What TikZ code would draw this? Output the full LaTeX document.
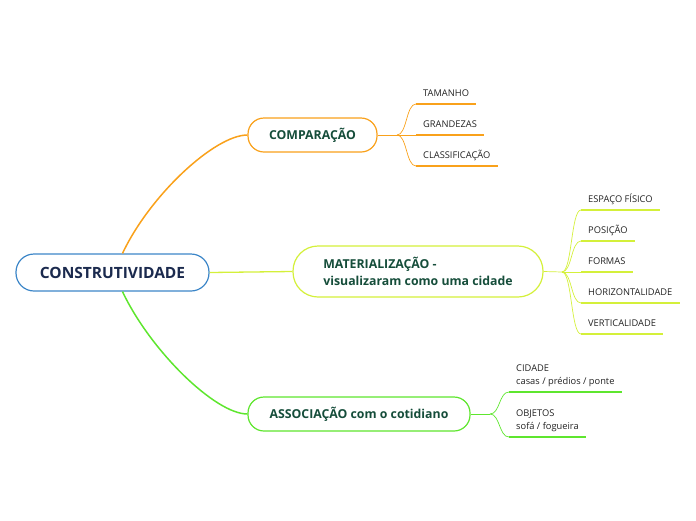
\documentclass[tikz,border=0pt]{standalone}
\usepackage{fontspec}
\setmainfont{Open Sans}
\definecolor{cOrange}{HTML}{F9A11B}
\definecolor{cLime}{HTML}{D4F03A}
\definecolor{cGreen}{HTML}{5EE62E}
\definecolor{cBlue}{HTML}{3C86C8}
\definecolor{cRootText}{HTML}{1B2A4E}
\definecolor{cTopicText}{HTML}{154D3A}
\definecolor{cSubText}{HTML}{222222}
\begin{document}
\begin{tikzpicture}[x=1pt,y=-1pt,
  rootbox/.style={draw=cBlue, line width=1.2pt, fill=white, rounded corners=18pt,
    minimum width=193pt, minimum height=37pt, text=cRootText,
    font=\bfseries\fontsize{15.5}{18}\selectfont},
  topicbox/.style={draw=#1, line width=1.2pt, fill=white, rounded corners=16pt,
    minimum height=34pt, text=cTopicText, align=left,
    font=\bfseries\fontsize{12.3}{17}\selectfont},
  subbox/.style={anchor=south west, inner xsep=7pt, inner ysep=4.5pt, align=left,
    text depth=2.6pt, text=cSubText, font=\fontsize{9.3}{13}\selectfont},
  mainline/.style={draw=#1, line width=1.5pt},
  subline/.style={draw=#1, line width=0.7pt},
  uline/.style={draw=#1, line width=2.2pt}
]
\useasboundingbox (0,0) rectangle (696,520);

% main nodes
\node[rootbox] (root) at (112.5,272.5) {CONSTRUTIVIDADE};
\node[topicbox=cOrange, minimum width=129pt] (comp) at (312.5,135) {COMPARAÇÃO};
\node[topicbox=cLime, minimum width=250pt, minimum height=51pt, rounded corners=25pt] (mat) at (418,271.5)
  {MATERIALIZAÇÃO -\\visualizaram como uma cidade};
\node[topicbox=cGreen, minimum width=222pt] (assoc) at (359,414) {ASSOCIAÇÃO com o cotidiano};

% main connectors
\draw[mainline=cOrange] ([xshift=10pt]root.north) .. controls (150,195) and (215,135) .. (comp.west);
\draw[mainline=cLime, line width=1.3pt] (root.east) -- (mat.west);
\draw[mainline=cGreen] ([xshift=10pt]root.south) .. controls (150,350) and (215,414) .. (assoc.west);

% COMPARAÇÃO subtopics
\node[subbox] (s1) at (416,104) {TAMANHO};
\node[subbox] (s2) at (416,135) {GRANDEZAS};
\node[subbox] (s3) at (416,166) {CLASSIFICAÇÃO};
\coordinate (jc) at (397,135);
\draw[subline=cOrange] (comp.east) -- (jc);
\foreach \s in {s1,s2,s3}{
  \draw[subline=cOrange] (jc) .. controls (407,135) and (406,0 |- \s.south west) .. (\s.south west);
  \draw[uline=cOrange] (\s.south west) -- (\s.south east);
}

% MATERIALIZAÇÃO subtopics
\node[subbox] (m1) at (581,210) {ESPAÇO FÍSICO};
\node[subbox] (m2) at (581,241) {POSIÇÃO};
\node[subbox] (m3) at (581,272) {FORMAS};
\node[subbox] (m4) at (581,303) {HORIZONTALIDADE};
\node[subbox] (m5) at (581,334) {VERTICALIDADE};
\coordinate (jm) at (562,272);
\draw[subline=cLime] (mat.east) -- (jm);
\foreach \s in {m1,m2,m3,m4,m5}{
  \draw[subline=cLime] (jm) .. controls (572,272) and (571,0 |- \s.south west) .. (\s.south west);
  \draw[uline=cLime] (\s.south west) -- (\s.south east);
}

% ASSOCIAÇÃO subtopics
\node[subbox] (a1) at (509,392) {CIDADE\\casas / prédios / ponte};
\node[subbox] (a2) at (509,437) {OBJETOS\\sofá / fogueira};
\coordinate (ja) at (490,414);
\draw[subline=cGreen] (assoc.east) -- (ja);
\foreach \s in {a1,a2}{
  \draw[subline=cGreen] (ja) .. controls (500,414) and (499,0 |- \s.south west) .. (\s.south west);
  \draw[uline=cGreen] (\s.south west) -- (\s.south east);
}
\end{tikzpicture}
\end{document}
